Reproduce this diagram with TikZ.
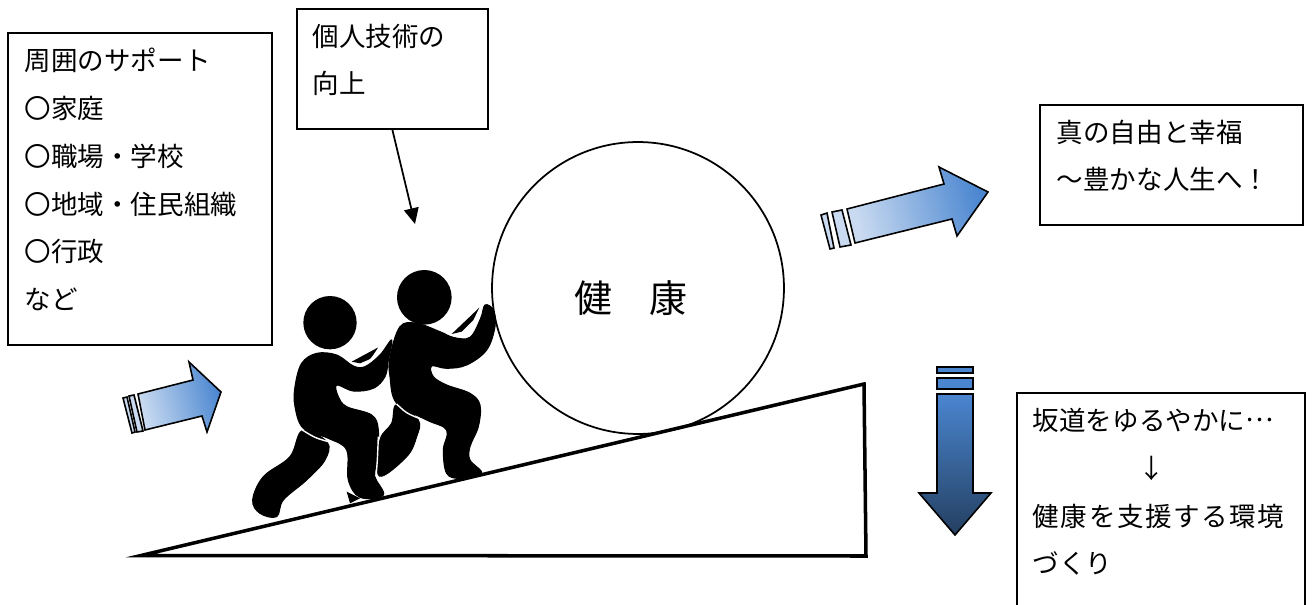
\documentclass[tikz,border=0pt]{standalone}
\usepackage{fontspec}
\setmainfont{Noto Sans CJK JP}
\usetikzlibrary{arrows.meta, positioning}
\definecolor{arrowlight}{HTML}{CADBF1}
\definecolor{arrowblue}{HTML}{4A86D0}
\definecolor{arrowdark}{HTML}{243F60}
\tikzstyle{textbox} = [draw=black, line width=1pt, anchor=north west, align=left, inner sep=0pt, font=\fontsize{15.1}{27.2}\selectfont]
\tikzstyle{slope} = [draw=black, line width=2pt, line join=miter]
\tikzstyle{figure} = [fill=black, draw=black, line width=0.6pt, smooth cycle, tension=0.6]
\tikzstyle{sliver} = [draw=white, line width=0.8pt, smooth, tension=0.6]
\tikzstyle{bararrow} = [draw=black, line width=0.9pt, line join=miter]
\tikzstyle{riseshade} = [bararrow, left color=arrowlight, right color=arrowblue, shading angle=105]
\tikzstyle{dropshade} = [bararrow, top color=arrowblue, bottom color=arrowdark]
% extra room under the last line, keeps the lines near the top of a box
\newcommand{\boxtail}{\rule[-0.4cm]{0pt}{0.1cm}}

\begin{document}
\begin{tikzpicture}[x=0.02cm, y=-0.02cm]
        \useasboundingbox (0,0) rectangle (1313,605);
        \clip (0,0) rectangle (1313,605);

        % Slope and ball
        \draw[slope] (141,555.5) -- (864,384) -- (866,556) -- cycle;
        \node (ball) [draw=black, line width=1pt, circle, minimum size=5.84cm, inner sep=0pt, font=\fontsize{21.6}{24}\selectfont] at (638,288) {\raisebox{-0.49cm}[0pt][0pt]{健　康}\hspace*{0.28cm}};

        % Text boxes
        \node (support) [textbox, minimum width=5.28cm, minimum height=6.24cm, text width=4.6cm] at (7,32)
            {周囲のサポート\\〇家庭\\〇職場・学校\\〇地域・住民組織\\〇行政\\など\boxtail};
        \node (skill) [textbox, minimum width=3.82cm, minimum height=2.4cm, text width=3.18cm] at (296,8)
            {個人技術の\\向上\boxtail};
        \node (freedom) [textbox, minimum width=5.26cm, minimum height=2.4cm, text width=4.58cm] at (1039,104)
            {真の自由と幸福\\～豊かな人生へ！\boxtail};
        \node (gentle) [textbox, minimum width=5.76cm, minimum height=4.88cm, text width=5.12cm] at (1016,392)
            {坂道をゆるやかに\raisebox{0.35em}{…}\\\hspace*{2.12cm}↓\\{\addfontfeature{LetterSpace=6}健康を支援する環境}\\づくり\\\mbox{}};

        % Arrow from the skill box
        \coordinate (skilltip) at (415,224);
        \draw[line width=1pt, -{Stealth[length=9pt,width=8.4pt,inset=0pt]}] (skill.south) -- (skilltip);

        % Left arrow
        \draw[bararrow, fill=arrowlight] (123,398) -- (127,397) -- (135,432) -- (132,433) -- cycle;
        \draw[bararrow, fill=arrowlight] (129,396) -- (134,395) -- (143,431) -- (137,432) -- cycle;
        \path[riseshade] (138,394) -- (193,380) -- (189,362) -- (221,392) -- (207,432) -- (202,416) -- (145,430) -- cycle;

        % Right arrow
        \draw[bararrow, fill=arrowlight] (821,215) -- (827,213) -- (834,248) -- (830,249) -- cycle;
        \draw[bararrow, fill=arrowlight] (832,212) -- (842,210) -- (851,245) -- (840,247) -- cycle;
        \path[riseshade] (847,209) -- (944,184) -- (939,167) -- (988,192) -- (957,236) -- (952,219) -- (855,243) -- cycle;

        % Down arrow
        \draw[bararrow, fill=arrowblue] (937,367) rectangle (973,373);
        \draw[bararrow, fill=arrowblue] (937,378) rectangle (973,389);
        \path[dropshade] (937,394) -- (973,394) -- (973,493) -- (991,493) -- (955,535) -- (919,493) -- (937,493) -- cycle;

        % Rear figure
        \begin{scope}[shift={(240,260)}, x=0.00667cm, y=-0.00667cm]
            \fill (270,188) circle (80);
            \fill (320,695) -- (360,715) -- (330,730) -- cycle;
            \path[figure] plot coordinates {(187,512) (262,547) (255,600) (200,660) (130,720) (110,770) (60,760) (38,720) (70,650) (150,590)};
            \path[figure] plot coordinates {(230,280) (290,285) (340,318) (375,320) (420,285) (455,240) (445,300) (435,350) (400,385) (340,393) (290,375) (295,410) (320,440) (395,465) (415,510) (410,600) (405,650) (430,705) (360,712) (325,660) (320,570) (265,535) (190,505) (165,440) (165,380) (185,310)};
            \fill (335,305) -- (415,262) -- (395,295) -- (360,310) -- cycle;
            \path[sliver] plot coordinates {(187,510) (225,532) (265,545)};
            \path[sliver] plot coordinates {(340,312) (370,316) (395,295) (418,262)};
        \end{scope}

        % Front figure
        \begin{scope}[shift={(240,260)}, x=0.00667cm, y=-0.00667cm]
            \fill (553,112) circle (82);
            \path[figure] plot coordinates {(470,434) (535,480) (530,530) (500,590) (418,648) (420,540) (455,490)};
            \path[figure] plot coordinates {(480,200) (530,190) (600,215) (640,232) (690,232) (722,175) (735,135) (760,150) (765,200) (740,270) (680,315) (620,325) (575,318) (580,350) (620,375) (690,400) (720,435) (715,500) (690,560) (690,600) (725,640) (660,655) (620,640) (610,570) (620,510) (560,480) (470,430) (450,350) (450,290)};
            \fill (635,222) -- (718,143) -- (700,180) -- (665,215) -- cycle;
            \path[sliver] plot coordinates {(470,432) (500,458) (537,475)};
            \path[sliver] plot coordinates {(640,228) (675,228) (700,195) (720,148)};
            \path[sliver] plot coordinates {(415,530) (412,600) (408,650)};
        \end{scope}
\end{tikzpicture}
\end{document}
